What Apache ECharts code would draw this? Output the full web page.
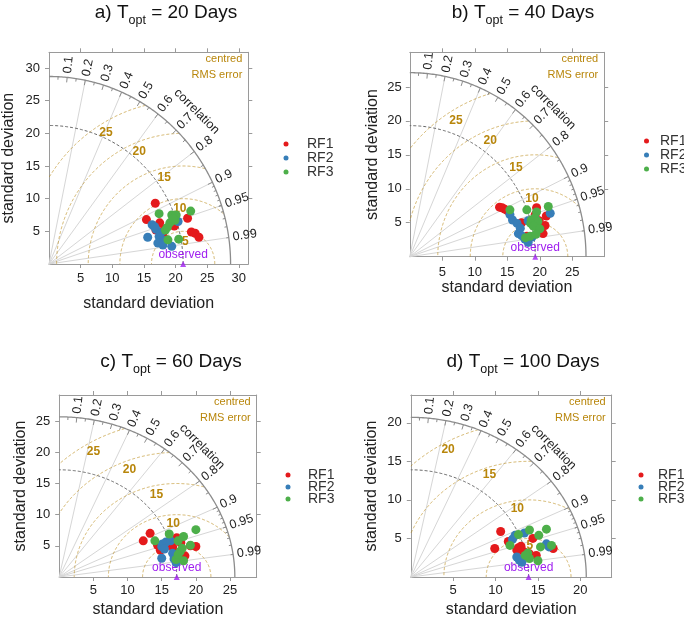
<!DOCTYPE html>
<html><head><meta charset="utf-8">
<script src="https://cdn.jsdelivr.net/npm/echarts@6/dist/echarts.min.js"></script>
<style>html,body{margin:0;padding:0;background:#fff}#c{width:684px;height:619px}</style>
</head><body><div id="c"></div>
<script>
const FONT = '"Liberation Sans", Arial, Helvetica, sans-serif';
// ---- data ----
const panelLetters = ['a)', 'b)', 'c)', 'd)'];
const optimalDays = [20, 40, 60, 100];
const modelNames = ['RF1', 'RF2', 'RF3'];
const modelColors = ['#e41a1c', '#377eb8', '#4daf4a'];
const observedSd = [21.2, 19.3, 17.2, 13.9];
const maxSd = [28.7, 27.1, 25.7, 20.7];
const rmsLevels = [[5, 10, 15, 20, 25], [5, 10, 15, 20, 25], [5, 10, 15, 20, 25], [5, 10, 15, 20]];
const corrLabels = [0.1, 0.2, 0.3, 0.4, 0.5, 0.6, 0.7, 0.8, 0.9, 0.95, 0.99];
const corrLines = [0.2, 0.4, 0.6, 0.8, 0.9, 0.95, 0.99];
const axisTickValues = [[5, 10, 15, 20, 25, 30], [5, 10, 15, 20, 25], [5, 10, 15, 20, 25], [5, 10, 15, 20]];

// points as [x, y] in standard-deviation space
const rf1A = [[16.8,9.3],[15.4,6.8],[16.9,5.2],[18.2,5.3],[19.8,5.8],[21.9,7.0],[22.5,4.9],[23.1,4.7],[23.7,4.1],[17.5,6.3],[18.0,4.4]];
const rf2A = [[15.6,4.1],[16.3,6.0],[16.9,5.3],[17.4,4.2],[17.8,3.3],[18.3,3.6],[17.2,3.2],[18.0,2.9],[19.4,2.7],[20.4,6.5],[17.7,4.8],[16.7,5.7]];
const rf3A = [[17.4,7.7],[19.4,7.5],[20.1,7.5],[19.9,6.7],[19.1,6.3],[18.4,5.2],[18.7,5.6],[22.4,8.1],[18.8,3.7],[20.5,3.8],[19.6,6.9]];
const rf1B = [[13.8,7.3],[14.2,7.2],[14.6,7.0],[15.0,6.8],[17.2,5.0],[19.5,7.2],[19.3,6.2],[21.0,6.0],[20.8,4.6],[20.5,3.4],[19.9,5.3],[18.0,3.0]];
const rf2B = [[15.4,6.2],[15.8,5.4],[16.5,4.9],[17.0,4.2],[16.7,3.4],[17.2,3.1],[17.7,2.6],[18.2,2.1],[18.8,2.9],[21.6,6.4],[19.3,5.6],[18.2,5.3]];
const rf3B = [[15.4,6.9],[18.0,6.9],[19.5,6.6],[21.3,7.4],[18.7,5.4],[19.2,5.7],[19.7,5.2],[18.6,4.9],[19.0,4.5],[20.0,4.1],[18.5,3.0],[17.8,2.8],[19.4,3.3]];
const rf1C = [[12.3,5.8],[13.3,7.0],[14.4,5.1],[14.8,4.3],[15.5,4.8],[16.6,4.8],[17.2,6.3],[17.8,5.5],[18.4,3.4],[19.2,5.0],[20.0,4.9],[17.0,4.0]];
const rf2C = [[15.0,3.0],[15.1,5.3],[15.6,5.6],[15.0,4.9],[16.3,5.8],[16.6,3.8],[16.8,2.9],[17.1,2.3],[15.4,4.5]];
const rf3C = [[14.0,5.8],[16.1,6.9],[17.4,5.8],[18.2,6.5],[19.2,5.1],[20.0,7.6],[17.7,4.1],[18.0,4.6],[17.1,2.8],[18.2,2.6],[17.4,3.6]];
const rf1D = [[9.9,3.7],[10.6,5.9],[11.5,4.6],[12.7,3.8],[13.0,4.0],[13.3,3.3],[14.4,5.0],[14.8,2.8],[16.8,3.7],[14.0,3.0],[12.5,3.5]];
const rf2D = [[12.0,4.9],[12.3,5.4],[13.4,5.7],[12.5,2.6],[13.1,1.9],[13.6,2.7],[16.0,4.3],[16.3,3.9],[12.8,2.2]];
const rf3D = [[12.7,5.5],[14.0,6.1],[11.7,4.1],[15.1,5.4],[16.0,6.2],[15.3,3.9],[16.6,4.1],[13.8,3.1],[14.0,2.4],[15.0,2.1],[13.5,2.8]];
const panelPoints = [[rf1A, rf2A, rf3A], [rf1B, rf2B, rf3B], [rf1C, rf2C, rf3C], [rf1D, rf2D, rf3D]];

// ---- layout ----
const layout = [
  {left: 49, top: 52.3, width: 199.3, height: 211.7, xMax: 31.5, yMax: 32.4, xGap: 32, yGap: 32, xMargin: 8, yMargin: 9,
   titleX: 166, titleY: 3, legLeft: 283.5, legTop: 137, legPad: 13.5, legGap: 0, rmsA0: 75, rmsK: 1.85, rmsIn: 1.5},
  {left: 409.8, top: 52.3, width: 194.4, height: 204.4, xMax: 29.9, yMax: 30.1, xGap: 22, yGap: 29, xMargin: 9, yMargin: 8,
   titleX: 523, titleY: 3, legLeft: 644, legTop: 134, legPad: 6, legGap: 0, rmsA0: 75, rmsK: 1.85, rmsIn: 1.5},
  {left: 59.2, top: 395, width: 197.5, height: 183.3, xMax: 28.9, yMax: 29.2, xGap: 25, yGap: 31, xMargin: 7, yMargin: 9,
   titleX: 171, titleY: 352, legLeft: 285.5, legTop: 468, legPad: 12.5, legGap: -2, rmsA0: 75, rmsK: 1.85, rmsIn: 1.5},
  {left: 410.8, top: 395, width: 200.9, height: 183.3, xMax: 23.7, yMax: 23.6, xGap: 25, yGap: 31, xMargin: 7, yMargin: 9,
   titleX: 523, titleY: 352, legLeft: 638.5, legTop: 468, legPad: 9.5, legGap: -2, rmsA0: 77, rmsK: 2.15, rmsIn: 1.0}
];

const GOLD = '#b8860b';
function makeRender(p) {
  const L = layout[p];
  return function (params, api) {
    const ms = maxSd[p], obs = observedSd[p];
    const P = (x, y) => api.coord([x, y]);
    const kids = [];
    const poly = (pts, style) => kids.push({type: 'polyline', silent: true, shape: {points: pts}, style: Object.assign({fill: 'none'}, style)});
    const txt = (x, y, text, opts) => kids.push({type: 'text', silent: true, x: x, y: y, rotation: opts.rotation || 0,
      style: {text: text, fill: opts.fill, font: opts.font, align: opts.align, verticalAlign: 'middle', textAlign: opts.align, textVerticalAlign: 'middle'}});
    // radial correlation lines
    corrLines.forEach(c => { const a = Math.acos(c); poly([P(0, 0), P(ms * Math.cos(a), ms * Math.sin(a))], {stroke: '#d6d6d6', lineWidth: 1}); });
    // centred RMS arcs
    const rmsStyle = {stroke: 'rgba(184,134,11,0.6)', lineWidth: 1, lineDash: [3, 2]};
    rmsLevels[p].forEach(r => {
      let seg = [];
      for (let i = 0; i <= 720; i++) {
        const t = Math.PI * i / 720, x = obs + r * Math.cos(t), y = r * Math.sin(t);
        if (x >= 0 && x * x + y * y <= ms * ms) seg.push(P(x, y));
        else { if (seg.length > 1) poly(seg, rmsStyle); seg = []; }
      }
      if (seg.length > 1) poly(seg, rmsStyle);
    });
    // observed sd arc
    const arc = (r) => { const pts = []; for (let i = 0; i <= 180; i++) { const t = Math.PI / 2 * i / 180; pts.push(P(r * Math.cos(t), r * Math.sin(t))); } return pts; };
    poly(arc(obs), {stroke: '#666', lineWidth: 1, lineDash: [3, 2]});
    // outer arc
    poly(arc(ms), {stroke: '#8c8c8c', lineWidth: 1.3});
    // ticks on the outer arc
    const tick = (c, len) => { const a = Math.acos(c); const o = P(ms * Math.cos(a), ms * Math.sin(a));
      poly([o, [o[0] - len * Math.cos(a), o[1] + len * Math.sin(a)]], {stroke: '#8c8c8c', lineWidth: 1}); };
    for (let i = 1; i <= 9; i++) tick(i / 10, 5);
    for (let i = 0; i < 10; i++) tick(0.05 + i / 10, 3);
    for (let i = 1; i <= 9; i++) tick(0.9 + i / 100, 2.5);
    // correlation labels
    corrLabels.forEach(c => { const a = Math.acos(c); const o = P(ms * Math.cos(a), ms * Math.sin(a));
      txt(o[0] + 4 * Math.cos(a), o[1] - 4 * Math.sin(a), String(c), {fill: '#222', font: '12.5px ' + FONT, align: 'left', rotation: a}); });
    const cc = P(ms * 1.15 * Math.SQRT1_2, ms * 1.15 * Math.SQRT1_2);
    txt(cc[0], cc[1], 'correlation', {fill: '#222', font: '12.5px ' + FONT, align: 'center', rotation: -Math.PI / 4});
    // RMS labels
    rmsLevels[p].forEach(r => { const ang = (L.rmsA0 + L.rmsK * r) * Math.PI / 180; const rr = r - L.rmsIn;
      const o = P(obs + rr * Math.cos(ang), rr * Math.sin(ang));
      txt(o[0], o[1], String(r), {fill: GOLD, font: 'bold 12px ' + FONT, align: 'center'}); });
    // corner text
    const tr = P(L.xMax, L.yMax);
    txt(tr[0] - 6, tr[1] + 7, 'centred', {fill: GOLD, font: '11px ' + FONT, align: 'right'});
    txt(tr[0] - 6, tr[1] + 23, 'RMS error', {fill: GOLD, font: '11px ' + FONT, align: 'right'});
    // observed label
    const ob = P(obs, 0);
    txt(ob[0], ob[1] - 9, 'observed', {fill: '#a020f0', font: '12px ' + FONT, align: 'center'});
    return {type: 'group', children: kids};
  };
}

const grid = [], xAxis = [], yAxis = [], series = [], legend = [], graphic = [];
const lineCol = '#9a9a9a';
layout.forEach((L, p) => {
  grid.push({left: L.left, top: L.top, width: L.width, height: L.height, containLabel: false});
  const base = (max, ticks) => ({type: 'value', gridIndex: p, min: 0, max: max, splitLine: {show: false},
    axisLine: {show: true, onZero: false, lineStyle: {color: lineCol, width: 1}},
    axisTick: {show: true, length: 4, customValues: ticks, lineStyle: {color: lineCol}}});
  const lbl = (margin, ticks) => ({customValues: ticks, margin: margin, color: '#222', fontSize: 13, fontFamily: FONT});
  const nts = {fontSize: 16, color: '#222', fontFamily: FONT};
  xAxis.push(Object.assign(base(L.xMax, axisTickValues[p]), {position: 'bottom', axisLabel: lbl(L.xMargin, axisTickValues[p]),
    name: 'standard deviation', nameLocation: 'middle', nameGap: L.xGap, nameTextStyle: nts}));
  xAxis.push(Object.assign(base(L.xMax, axisTickValues[p]), {position: 'top', axisLabel: {show: false}}));
  yAxis.push(Object.assign(base(L.yMax, axisTickValues[p]), {position: 'left', axisLabel: lbl(L.yMargin, axisTickValues[p]),
    name: 'standard deviation', nameLocation: 'middle', nameGap: L.yGap, nameTextStyle: nts}));
  yAxis.push(Object.assign(base(L.yMax, axisTickValues[p]), {position: 'right', axisLabel: {show: false}}));
  series.push({type: 'custom', xAxisIndex: 2 * p, yAxisIndex: 2 * p, data: [0], renderItem: makeRender(p), z: 1, silent: true, clip: false});
  modelNames.forEach((n, k) => {
    series.push({name: n, type: 'scatter', xAxisIndex: 2 * p, yAxisIndex: 2 * p, data: panelPoints[p][k],
      symbol: 'circle', symbolSize: 9, itemStyle: {color: modelColors[k], opacity: 1}, z: 3 + k, silent: true});
  });
  series.push({name: 'observed', type: 'scatter', xAxisIndex: 2 * p, yAxisIndex: 2 * p, data: [[observedSd[p], 0]],
    symbol: 'triangle', symbolSize: 6, itemStyle: {color: '#a020f0'}, z: 6, silent: true, clip: false});
  legend.push({data: modelNames, orient: 'vertical', left: L.legLeft, top: L.legTop, icon: 'circle', itemWidth: 5, itemHeight: 5,
    itemGap: L.legGap, selectedMode: false, padding: 0,
    textStyle: {fontSize: 14, color: '#333', fontFamily: FONT, padding: [0, 0, 0, L.legPad]}});
  graphic.push({type: 'text', x: L.titleX, y: L.titleY, silent: true,
    style: {text: '{m|' + panelLetters[p] + ' T}{s|opt}{m| = ' + optimalDays[p] + ' Days}', align: 'center', verticalAlign: 'top', fill: '#111',
      rich: {m: {fontSize: 19, fontFamily: FONT, lineHeight: 22, verticalAlign: 'top', fill: '#111'},
             s: {fontSize: 12.5, fontFamily: FONT, lineHeight: 12, verticalAlign: 'top', padding: [11, 0, 0, 0], fill: '#111'}}}});
});

const chart = echarts.init(document.getElementById('c'), null, {renderer: 'canvas'});
chart.setOption({animation: false, backgroundColor: '#fff', grid, xAxis, yAxis, series, legend, graphic});
</script>
</body></html>
